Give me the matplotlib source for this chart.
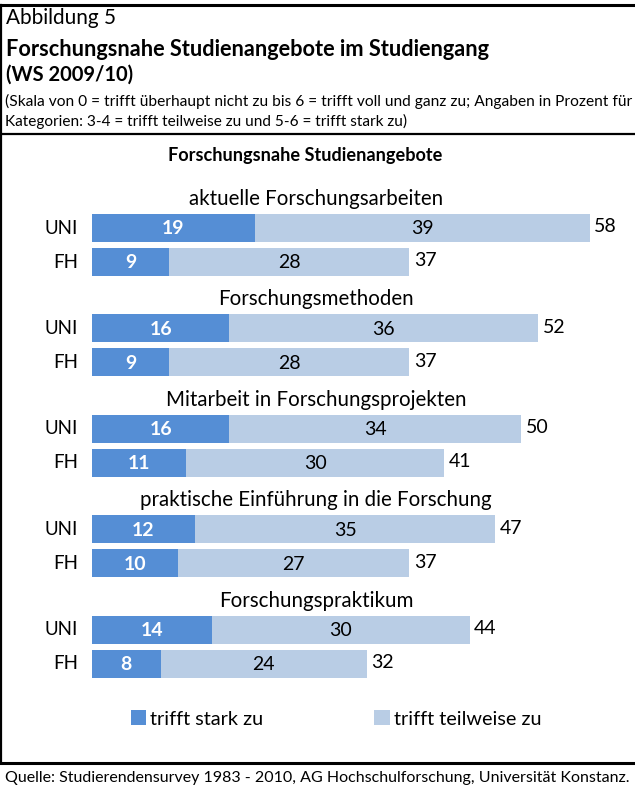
import matplotlib
matplotlib.use("Agg")
import matplotlib.pyplot as plt
from matplotlib.patches import Patch
from matplotlib.lines import Line2D
import logging
logging.getLogger("matplotlib.font_manager").setLevel(logging.ERROR)

groups = ["aktuelle Forschungsarbeiten", "Forschungsmethoden",
          "Mitarbeit in Forschungsprojekten",
          "praktische Einführung in die Forschung", "Forschungspraktikum"]
types = ["UNI", "FH"]
stark_uni = [19, 16, 16, 12, 14]
teil_uni = [39, 36, 34, 35, 30]
stark_fh = [9, 9, 11, 10, 8]
teil_fh = [28, 28, 30, 27, 24]
legend_labels = ["trifft stark zu", "trifft teilweise zu"]

C_DARK = "#558ED5"
C_LIGHT = "#B9CDE5"
FONT = ["Lato", "DejaVu Sans"]
HFONT = ["Liberation Sans Narrow", "Lato", "DejaVu Sans"]

W, H = 635, 790
fig = plt.figure(figsize=(W / 100, H / 100), dpi=100)
renderer = fig.canvas.get_renderer()


def fx(px):
    return px / W


def fy(py):
    return 1 - py / H


def fit_text(x, y, s, width_px, size=12, ha="left", va="center", family=FONT, **kw):
    t = fig.text(fx(x), fy(y), s, ha=ha, va=va, fontsize=size, family=family, **kw)
    w = t.get_window_extent(renderer).width
    t.set_fontsize(size * width_px / w)
    return t


# header
fit_text(6, 18, "Abbildung 5", 111, size=14, family=HFONT)
fit_text(6, 49, "Forschungsnahe Studienangebote im Studiengang", 487, size=14, weight="bold", family=HFONT)
fit_text(6, 75, "(WS 2009/10)", 128, size=14, weight="bold", family=HFONT)
fit_text(5, 101, "(Skala von 0 = trifft überhaupt nicht zu bis 6 = trifft voll und ganz zu; Angaben in Prozent für",
         623, size=10, family=HFONT)
fit_text(5, 121, "Kategorien: 3-4 = trifft teilweise zu und 5-6 = trifft stark zu)", 404, size=10, family=HFONT)
fit_text(305, 155, "Forschungsnahe Studienangebote", 273, size=12, ha="center", weight="bold")
fit_text(5, 778, "Quelle: Studierendensurvey 1983 - 2010, AG Hochschulforschung, Universität Konstanz.",
         626, size=10, family=HFONT)

# frame lines
for (x0, y0, x1, y1, lw) in [(0, 5, W, 5, 2.2), (1, 5, 1, 763, 1.6),
                              (0, 134, W, 134, 1.6), (0, 763, W, 763, 2.2)]:
    fig.add_artist(Line2D([fx(x0), fx(x1)], [fy(y0), fy(y1)], color="black", lw=lw))

# bar axes (pixel-based vertical layout)
ax_left, ax_right, ax_top, ax_bot = 92, 635, 180, 700
ax = fig.add_axes([fx(ax_left), fy(ax_bot), fx(ax_right - ax_left), (ax_bot - ax_top) / H])
px_per_unit = 8.58
ax.set_xlim(0, (ax_right - ax_left) / px_per_unit)
ax.set_ylim(ax_bot, ax_top)
ax.axis("off")

group_gap = 100.4
pair_gap = 34
first_uni = 228
bar_h = 28

for g, name in enumerate(groups):
    yu = first_uni + g * group_gap
    yf = yu + pair_gap
    ax.text((316 - ax_left) / px_per_unit, yu - 29, name, ha="center", va="center",
            fontsize=14.8, family=FONT)
    for y, s, t, lab in [(yu, stark_uni[g], teil_uni[g], "UNI"), (yf, stark_fh[g], teil_fh[g], "FH")]:
        ax.barh(y, s, height=bar_h, color=C_DARK, edgecolor="none")
        ax.barh(y, t, left=s, height=bar_h, color=C_LIGHT, edgecolor="none")
        ax.text(s / 2, y + 1, str(s), ha="center", va="center", color="white",
                fontsize=14, weight="bold", family=FONT)
        ax.text(s + t / 2, y + 1, str(t), ha="center", va="center", color="black",
                fontsize=14, family=FONT)
        ax.text(s + t + 0.55, y - 1, str(s + t), ha="left", va="center", color="black",
                fontsize=14, family=FONT)
        ax.text(-1.6, y, lab, ha="right", va="center", fontsize=13.5, family=FONT)

handles = [Patch(facecolor=C_DARK), Patch(facecolor=C_LIGHT)]
fig.legend(handles, legend_labels, loc="center", bbox_to_anchor=(fx(336), fy(719)),
           ncol=2, frameon=False, prop={"family": FONT, "size": 14.3},
           handlelength=0.78, handleheight=0.78, handletextpad=0.2, columnspacing=5.6)

fig.savefig("out.png", dpi=100)
